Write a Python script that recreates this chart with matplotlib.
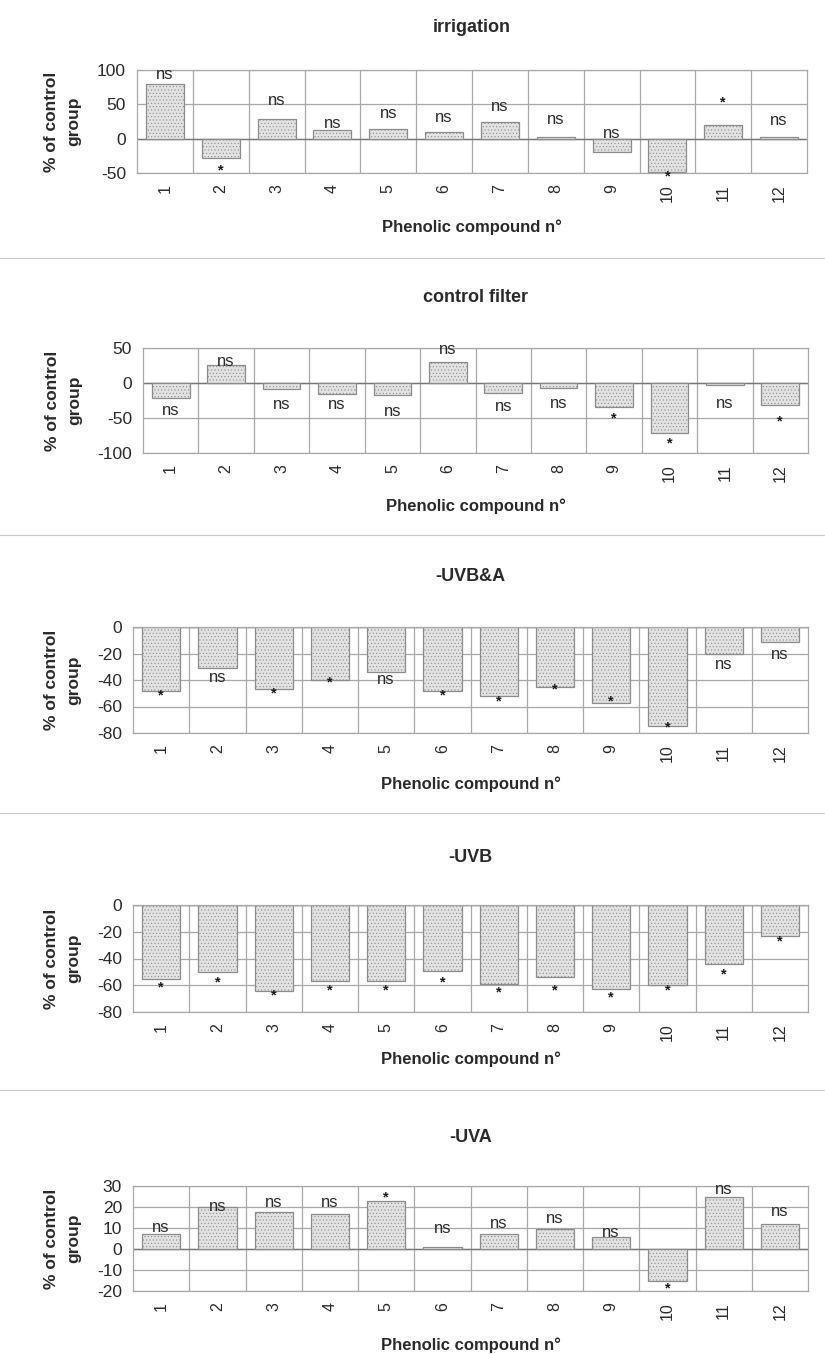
import numpy as np
import matplotlib
matplotlib.use("Agg")
import matplotlib.pyplot as plt

plt.rcParams['font.family'] = ['Liberation Sans', 'DejaVu Sans']
plt.rcParams['hatch.linewidth'] = 0.4

# compounds 1..12
compounds = [str(i) for i in range(1, 13)]

# % change relative to the control group, one list per treatment
irrigation = [80, -28, 28, 12, 14, 9, 25, 2, -20, -49, 20, 2]
control_filter = [-22, 26, -9, -15, -17, 30, -14, -7, -34, -72, -3, -32]
uvb_a = [-48, -31, -47, -40, -34, -48, -52, -45, -57, -75, -20, -11]
uvb = [-55, -50, -64, -57, -57, -49, -59, -54, -63, -60, -44, -23]
uva = [7, 20, 17.5, 16.5, 23, 1, 7, 9.5, 5.5, -15, 25, 12]

# significance marks and the height where each one sits
irrigation_sig = ['ns', '*', 'ns', 'ns', 'ns', 'ns', 'ns', 'ns', 'ns', '*', '*', 'ns']
irrigation_sig_y = [93, -46, 56, 22, 37, 31, 47, 28, 8, -55, 52, 27]
control_filter_sig = ['ns', 'ns', 'ns', 'ns', 'ns', 'ns', 'ns', 'ns', '*', '*', 'ns', '*']
control_filter_sig_y = [-39, 30, -31, -31, -41, 48, -34, -30, -50, -87, -30, -55]
uvb_a_sig = ['*', 'ns', '*', '*', 'ns', '*', '*', '*', '*', '*', 'ns', 'ns']
uvb_a_sig_y = [-52, -38, -50, -41.5, -40, -52, -56.5, -47.5, -56.5, -75.5, -28, -21]
uvb_sig = ['*'] * 12
uvb_sig_y = [-62, -58, -68, -64, -64, -58, -65.5, -64, -69, -64, -52, -27.5]
uva_sig = ['ns', 'ns', 'ns', 'ns', '*', 'ns', 'ns', 'ns', 'ns', '*', 'ns', 'ns']
uva_sig_y = [10.3, 20.4, 22.3, 22.3, 24.7, 9.6, 12.1, 14.3, 8, -18.6, 28.3, 18]

panels = [
    ("irrigation", irrigation, irrigation_sig, irrigation_sig_y, (-50, 100), [100, 50, 0, -50]),
    ("control filter", control_filter, control_filter_sig, control_filter_sig_y, (-100, 50), [50, 0, -50, -100]),
    ("-UVB&A", uvb_a, uvb_a_sig, uvb_a_sig_y, (-80, 0), [0, -20, -40, -60, -80]),
    ("-UVB", uvb, uvb_sig, uvb_sig_y, (-80, 0), [0, -20, -40, -60, -80]),
    ("-UVA", uva, uva_sig, uva_sig_y, (-20, 30), [30, 20, 10, 0, -10, -20]),
]

W, H = 825, 1354
fig = plt.figure(figsize=(W / 100, H / 100), dpi=100)
fig.patch.set_facecolor('white')

# axes boxes in pixels: left, right, top, bottom
boxes = [(137, 807, 70, 173), (143, 808, 348, 453), (133, 808, 627, 733),
         (133, 808, 905, 1012), (133, 808, 1186, 1291)]
title_y = [28, 298, 577, 857, 1138]
xlabel_y = [227, 506, 784, 1059, 1345]
sep_y = [258, 535, 813, 1090]

text_col = '#2a2a2a'
grid_col = '#a8a8a8'
x = np.arange(1, 13)

for (title, vals, sig, sig_y, ylim, yticks), (l, r, t, b), ty, xy in zip(
        panels, boxes, title_y, xlabel_y):
    ax = fig.add_axes([l / W, 1 - b / H, (r - l) / W, (b - t) / H])
    ax.set_xlim(0.5, 12.5)
    ax.set_ylim(*ylim)
    ax.set_axisbelow(True)
    for yv in yticks:
        ax.axhline(yv, color=grid_col, lw=0.9, zorder=0)
    for xv in np.arange(1.5, 12.5, 1):
        ax.axvline(xv, color=grid_col, lw=0.9, zorder=0)
    ax.axhline(0, color='#777777', lw=1.0, zorder=1)

    ax.bar(x, vals, width=0.68, facecolor='#e2e2e2', edgecolor='#8c8c8c',
           linewidth=0.9, hatch='.....', zorder=2)

    for xi, s, sy in zip(x, sig, sig_y):
        if s == '*':
            ax.text(xi, sy, s, ha='center', va='center', fontsize=10.5,
                    fontweight='bold', color='#1a1a1a', zorder=4, clip_on=False)
        else:
            ax.text(xi, sy, s, ha='center', va='center', fontsize=12,
                    color=text_col, zorder=4, clip_on=False)

    ax.set_yticks(yticks)
    ax.set_yticklabels([str(v) for v in yticks], fontsize=12.5, color=text_col)
    ax.set_xticks(x)
    ax.set_xticklabels(compounds, rotation=90, fontsize=11.5, color=text_col)
    ax.tick_params(length=0, pad=8)
    for sp in ax.spines.values():
        sp.set_color(grid_col)
        sp.set_linewidth(0.9)

    ax.set_ylabel("% of control\ngroup", fontsize=12.5, fontweight='bold',
                  color=text_col, linespacing=1.6, labelpad=11)

    fig.text((l + r) / 2 / W, 1 - ty / H, title, ha='center', va='center',
             fontsize=13, fontweight='bold', color=text_col)
    fig.text((l + r) / 2 / W, 1 - xy / H, "Phenolic compound n°", ha='center',
             va='center', fontsize=12, fontweight='bold', color=text_col)

for sy in sep_y:
    fig.add_artist(plt.Line2D([0.0, 1.0], [1 - sy / H, 1 - sy / H],
                              color='#c8c8c8', lw=0.8))

fig.savefig("out.png", dpi=100, facecolor='white')
